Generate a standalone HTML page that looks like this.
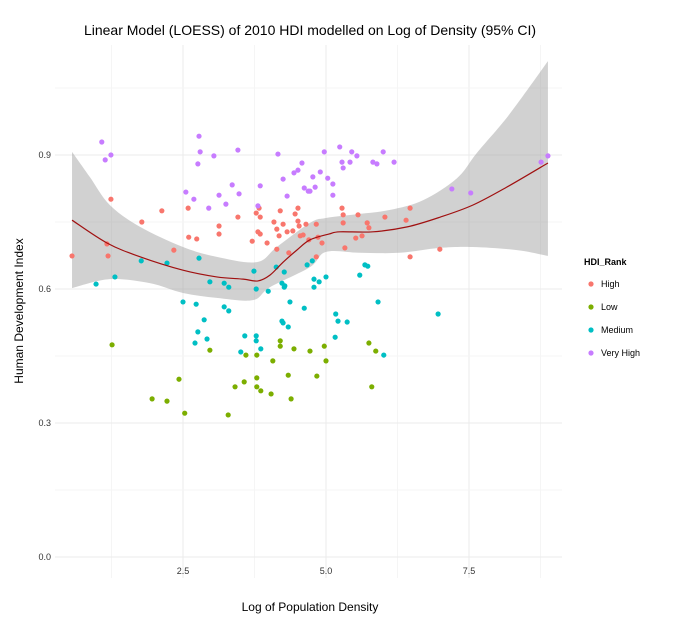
<!DOCTYPE html>
<html><head><meta charset="utf-8"><style>
body{margin:0;background:#fff}
text{font-family:"Liberation Sans",sans-serif}
</style></head><body>
<svg id="chart" width="693" height="625" xmlns="http://www.w3.org/2000/svg"></svg>
<script>
const xTicks=[2.5,5.0,7.5];
const xTickLabels=["2.5","5.0","7.5"];
const yTicks=[0.0,0.3,0.6,0.9];
const yTickLabels=["0.0","0.3","0.6","0.9"];
const seriesNames=["High","Low","Medium","Very High"];
const seriesColors=["#F8766D","#7CAE00","#00BFC4","#C77CFF"];
const highX=[1.24,2.13,1.78,0.56,1.17,1.19,2.34,2.59,2.60,2.74,3.13,3.13,3.46,3.78,3.83,3.85,3.81,3.85,3.71,3.97,4.09,4.14,4.20,4.25,4.18,4.14,4.32,4.42,4.46,4.51,4.51,4.53,4.55,4.60,4.35,4.65,4.70,4.83,4.86,4.93,4.83,5.28,5.30,5.30,5.56,5.72,5.75,5.63,5.52,5.33,6.03,6.40,6.47,6.47,6.99];
const highY=[0.801,0.775,0.750,0.674,0.701,0.674,0.687,0.781,0.716,0.712,0.741,0.723,0.761,0.770,0.781,0.761,0.728,0.723,0.707,0.703,0.750,0.734,0.775,0.745,0.719,0.689,0.728,0.730,0.768,0.781,0.752,0.741,0.719,0.721,0.681,0.745,0.710,0.745,0.716,0.703,0.672,0.781,0.766,0.748,0.766,0.748,0.737,0.719,0.714,0.692,0.761,0.754,0.781,0.672,0.689];
const lowX=[1.26,2.43,1.96,2.22,2.53,3.29,2.97,3.60,3.79,3.57,3.41,3.79,3.79,3.86,4.04,4.07,4.20,4.20,4.34,4.39,4.44,4.72,4.97,5.00,4.84,5.75,5.87,5.80];
const lowY=[0.475,0.398,0.354,0.349,0.322,0.318,0.463,0.452,0.452,0.392,0.381,0.401,0.381,0.372,0.365,0.439,0.484,0.472,0.407,0.354,0.466,0.461,0.472,0.439,0.405,0.479,0.461,0.381];
const medX=[0.98,1.31,1.77,2.22,2.78,2.97,3.22,3.30,3.74,3.78,3.99,4.13,4.27,4.23,4.28,4.27,4.67,4.76,4.79,4.88,4.79,5.00,2.50,2.73,3.22,3.30,2.87,2.76,2.92,2.71,3.58,3.78,3.78,3.51,3.86,4.37,4.62,4.23,4.25,4.34,5.17,5.21,5.37,5.16,5.68,5.73,5.59,5.91,6.01,6.96];
const medY=[0.611,0.627,0.663,0.658,0.669,0.616,0.613,0.604,0.640,0.600,0.595,0.649,0.638,0.613,0.607,0.604,0.654,0.663,0.622,0.616,0.604,0.627,0.571,0.566,0.560,0.551,0.531,0.504,0.488,0.479,0.495,0.495,0.484,0.459,0.466,0.571,0.557,0.528,0.524,0.515,0.544,0.528,0.526,0.492,0.654,0.651,0.631,0.571,0.452,0.544];
const vhX=[1.08,1.14,1.24,2.78,2.80,2.76,3.04,3.46,4.16,4.58,4.51,4.44,4.25,3.85,3.36,2.55,2.69,3.13,3.48,3.25,2.95,3.81,4.32,4.62,4.69,5.24,4.97,5.45,5.54,6.00,5.28,5.30,5.42,5.82,5.89,6.19,4.90,4.77,5.03,5.12,5.12,4.72,4.81,7.20,7.53,8.76,8.88];
const vhY=[0.929,0.889,0.900,0.942,0.907,0.880,0.898,0.911,0.902,0.882,0.866,0.860,0.846,0.831,0.833,0.817,0.801,0.810,0.813,0.790,0.781,0.786,0.808,0.826,0.819,0.918,0.907,0.907,0.898,0.907,0.884,0.871,0.884,0.884,0.880,0.884,0.862,0.851,0.848,0.835,0.810,0.819,0.828,0.824,0.815,0.884,0.898];
const curveX=[0.56,1.17,1.75,2.50,3.09,3.55,3.81,4.02,4.25,4.49,4.72,5.05,5.24,5.82,6.42,7.0,7.57,8.16,8.88];
const curveY=[0.754,0.703,0.672,0.642,0.627,0.622,0.618,0.631,0.660,0.687,0.710,0.723,0.728,0.728,0.739,0.761,0.788,0.828,0.882];
const upperX=[0.56,0.87,1.22,1.75,2.50,3.09,3.79,4.14,4.72,5.0,5.59,6.12,6.70,7.29,7.64,8.2,8.88];
const upperY=[0.907,0.851,0.788,0.739,0.694,0.672,0.660,0.694,0.748,0.759,0.768,0.777,0.799,0.848,0.905,0.99,1.11];
const lowerX=[0.56,1.22,1.92,2.50,3.09,3.72,4.02,4.72,5.0,5.59,6.29,6.99,7.57,8.34,8.88];
const lowerY=[0.602,0.622,0.613,0.591,0.580,0.575,0.604,0.649,0.683,0.681,0.681,0.692,0.694,0.687,0.674];

const NS="http://www.w3.org/2000/svg";
const svg=document.getElementById('chart');
const L=55,R=562,T=45,B=578;
const sx=v=>40+v*57.2;
const sy=v=>557-v*446.7;
function mk(tag,attrs,parent){const e=document.createElementNS(NS,tag);for(const k in attrs)e.setAttribute(k,attrs[k]);(parent||svg).appendChild(e);return e;}
function smooth(pts,start){let d=start?'M'+pts[0][0]+','+pts[0][1]:'L'+pts[0][0]+','+pts[0][1];
for(let i=0;i<pts.length-1;i++){const p0=pts[Math.max(0,i-1)],p1=pts[i],p2=pts[i+1],p3=pts[Math.min(pts.length-1,i+2)];
const c1=[p1[0]+(p2[0]-p0[0])/6,p1[1]+(p2[1]-p0[1])/6],c2=[p2[0]-(p3[0]-p1[0])/6,p2[1]-(p3[1]-p1[1])/6];
d+='C'+c1[0]+','+c1[1]+' '+c2[0]+','+c2[1]+' '+p2[0]+','+p2[1];}return d;}
const defs=mk('defs',{});
const cp=mk('clipPath',{id:'pc'},defs);mk('rect',{x:L,y:T,width:R-L,height:B-T},cp);
const grid=mk('g',{});


for(let v=1.25;v<=8.75;v+=1.25){mk('line',{x1:sx(v),x2:sx(v),y1:T,y2:B,stroke:(Math.abs(v/2.5-Math.round(v/2.5))<1e-6)?'#ebebeb':'#f5f5f5','stroke-width':1},grid);}
for(let v=0;v<=1.05;v+=0.15){mk('line',{x1:L,x2:R,y1:sy(v),y2:sy(v),stroke:(Math.round(v*100)%30===0)?'#ebebeb':'#f5f5f5','stroke-width':1},grid);}
const up=upperX.map((x,i)=>[sx(x),sy(upperY[i])]);
const lo=lowerX.map((x,i)=>[sx(x),sy(lowerY[i])]).reverse();
const band=mk('path',{d:smooth(up,true)+smooth(lo,false)+'Z',fill:'#999','fill-opacity':0.45,'clip-path':'url(#pc)'});


const sets=[[highX,highY],[lowX,lowY],[medX,medY],[vhX,vhY]];
sets.forEach((s,k)=>{const g=mk('g',{});


s[0].forEach((x,i)=>{const c=mk('circle',{cx:sx(x),cy:sy(s[1][i]),r:2.6,fill:seriesColors[k]},g);

});});
const line=mk('path',{d:smooth(curveX.map((x,i)=>[sx(x),sy(curveY[i])]),true),fill:'none',stroke:'#a01010','stroke-width':1.2});


xTicks.forEach((v,i)=>{const t=mk('text',{x:sx(v),y:574,'font-size':9,'text-anchor':'middle',fill:'#333'});t.textContent=xTickLabels[i];

});
yTicks.forEach((v,i)=>{const t=mk('text',{x:51,y:sy(v)+3,'font-size':9,'text-anchor':'end',fill:'#333'});t.textContent=yTickLabels[i];

});
function txt(s,a,name){const t=mk('text',a);t.textContent=s;

return t;}
txt('Linear Model (LOESS) of 2010 HDI modelled on Log of Density (95% CI)',{x:310,y:35,'font-size':14,'text-anchor':'middle',fill:'#000'},'chart-title');
txt('Log of Population Density',{x:310,y:611,'font-size':12,'text-anchor':'middle',fill:'#000'},'x-axis-title');
txt('Human Development Index',{x:0,y:0,'font-size':12,'text-anchor':'middle',fill:'#000',transform:'translate(23,311) rotate(-90)'},'y-axis-title');
txt('HDI_Rank',{x:584,y:265,'font-size':9,'font-weight':'bold',fill:'#000'},'legend-title');
seriesNames.forEach((n,k)=>{const g=mk('g',{});


mk('circle',{cx:591,cy:284+k*23,r:2.6,fill:seriesColors[k]},g);
const t=mk('text',{x:601,y:287+k*23,'font-size':9,fill:'#000'},g);t.textContent=n;});
</script>
</body></html>
